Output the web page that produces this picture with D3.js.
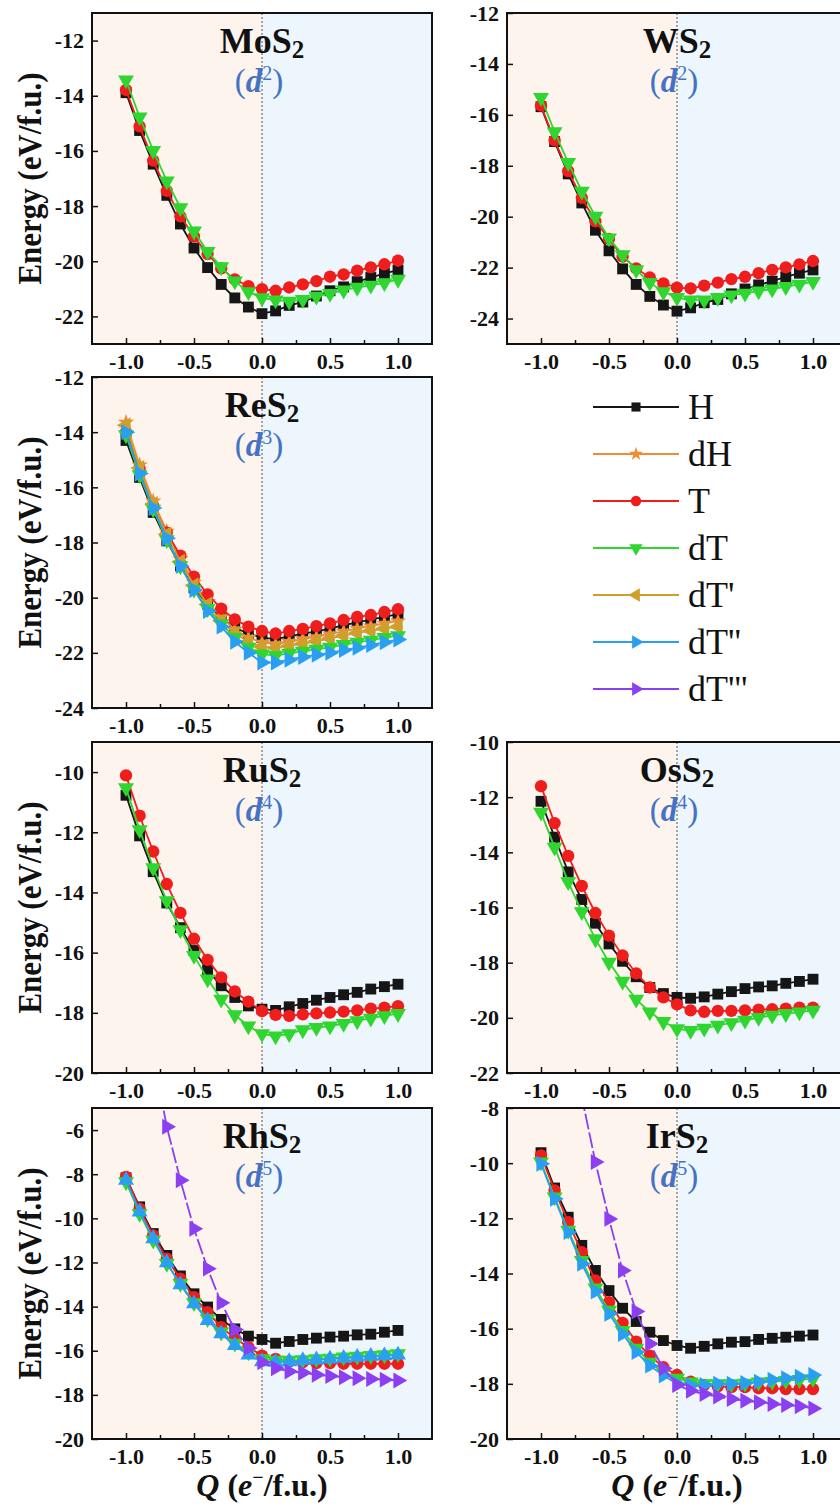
<!DOCTYPE html>
<html>
<head>
<meta charset="utf-8">
<script src="https://cdn.jsdelivr.net/npm/d3@7"></script>
<style>
  html, body { margin: 0; padding: 0; background: #ffffff; }
  svg { display: block; }
  text { font-family: "Liberation Serif", "Times New Roman", serif; }
</style>
</head>
<body>
<svg id="chart" width="840" height="1508"></svg>
<script>
// Charge doping Q (e-/f.u.)
const chargeQ = [-1.0, -0.9, -0.8, -0.7, -0.6, -0.5, -0.4, -0.3, -0.2, -0.1, 0.0,
                 0.1, 0.2, 0.3, 0.4, 0.5, 0.6, 0.7, 0.8, 0.9, 1.0];
const xTickValues = [-1.0, -0.5, 0.0, 0.5, 1.0];
const xMinorTicks = [-0.75, -0.25, 0.25, 0.75];

// Phase names in legend order
const phaseNames = ["H", "dH", "T", "dT", "dT'", "dT''", "dT'''"];

// MoS2 (d2)
const mos2H  = [-13.89, -15.26, -16.48, -17.61, -18.65, -19.52, -20.23, -20.84, -21.33, -21.66, -21.90, -21.80, -21.60, -21.48, -21.26, -21.07, -20.93, -20.74, -20.59, -20.44, -20.32];
const mos2T  = [-13.79, -15.11, -16.35, -17.45, -18.37, -19.10, -19.74, -20.26, -20.66, -20.90, -21.01, -21.07, -20.95, -20.84, -20.72, -20.56, -20.48, -20.34, -20.22, -20.11, -19.98];
const mos2dT = [-13.43, -14.77, -15.99, -17.09, -18.06, -18.91, -19.65, -20.20, -20.72, -21.11, -21.33, -21.41, -21.45, -21.39, -21.27, -21.17, -21.05, -20.95, -20.87, -20.78, -20.66];
const mos2Ticks = [-12, -14, -16, -18, -20, -22];

// WS2 (d2)
const ws2H  = [-15.68, -17.05, -18.32, -19.46, -20.53, -21.34, -22.05, -22.66, -23.13, -23.47, -23.71, -23.58, -23.38, -23.25, -23.03, -22.84, -22.68, -22.53, -22.36, -22.22, -22.09];
const ws2T  = [-15.64, -17.00, -18.21, -19.26, -20.18, -20.87, -21.57, -22.03, -22.39, -22.62, -22.79, -22.82, -22.71, -22.59, -22.45, -22.36, -22.22, -22.09, -21.99, -21.87, -21.74];
const ws2dT = [-15.32, -16.67, -17.88, -19.00, -19.99, -20.84, -21.50, -22.09, -22.59, -22.95, -23.18, -23.28, -23.28, -23.18, -23.08, -23.01, -22.92, -22.84, -22.75, -22.66, -22.55];
const ws2Ticks = [-12, -14, -16, -18, -20, -22, -24];

// ReS2 (d3)
const res2H   = [-14.30, -15.64, -16.91, -17.94, -18.85, -19.64, -20.24, -20.73, -21.09, -21.30, -21.45, -21.50, -21.40, -21.30, -21.22, -21.12, -21.00, -20.90, -20.80, -20.70, -20.60];
const res2dH  = [-13.65, -15.20, -16.50, -17.60, -18.60, -19.45, -20.15, -20.70, -21.15, -21.45, -21.62, -21.68, -21.60, -21.50, -21.42, -21.32, -21.22, -21.12, -21.03, -20.93, -20.85];
const res2T   = [-14.00, -15.33, -16.67, -17.64, -18.48, -19.24, -19.88, -20.40, -20.79, -21.05, -21.21, -21.30, -21.21, -21.13, -21.03, -20.93, -20.81, -20.70, -20.63, -20.52, -20.42];
const res2dT  = [-14.10, -15.55, -16.80, -17.90, -18.85, -19.70, -20.40, -20.95, -21.45, -21.80, -22.05, -22.10, -22.02, -21.95, -21.87, -21.80, -21.70, -21.62, -21.55, -21.45, -21.38];
const res2dT1 = [-13.75, -15.30, -16.60, -17.70, -18.70, -19.55, -20.25, -20.85, -21.30, -21.60, -21.78, -21.82, -21.75, -21.67, -21.58, -21.48, -21.38, -21.28, -21.20, -21.12, -21.05];
const res2dT2 = [-14.00, -15.50, -16.75, -17.85, -18.85, -19.72, -20.48, -21.05, -21.60, -22.00, -22.35, -22.35, -22.25, -22.15, -22.07, -22.00, -21.90, -21.82, -21.72, -21.62, -21.52];
const res2Ticks = [-12, -14, -16, -18, -20, -22, -24];

// RuS2 (d4)
const rus2H  = [-10.77, -12.12, -13.31, -14.35, -15.17, -15.93, -16.58, -17.10, -17.49, -17.77, -17.88, -17.92, -17.80, -17.69, -17.58, -17.49, -17.40, -17.32, -17.21, -17.13, -17.05];
const rus2T  = [-10.11, -11.45, -12.64, -13.72, -14.68, -15.54, -16.24, -16.82, -17.29, -17.63, -17.94, -18.07, -18.10, -18.05, -18.02, -17.99, -17.96, -17.92, -17.86, -17.83, -17.78];
const rus2dT = [-10.52, -11.92, -13.18, -14.28, -15.24, -16.10, -16.88, -17.55, -18.07, -18.44, -18.70, -18.77, -18.70, -18.57, -18.49, -18.44, -18.36, -18.27, -18.18, -18.10, -18.03];
const rus2Ticks = [-10, -12, -14, -16, -18, -20];

// OsS2 (d4)
const oss2H  = [-12.15, -13.45, -14.71, -15.71, -16.57, -17.32, -17.95, -18.51, -18.90, -19.12, -19.26, -19.29, -19.24, -19.14, -19.05, -18.94, -18.88, -18.84, -18.75, -18.68, -18.60];
const oss2T  = [-11.60, -12.94, -14.13, -15.22, -16.20, -17.02, -17.74, -18.39, -18.90, -19.26, -19.51, -19.73, -19.78, -19.75, -19.75, -19.73, -19.70, -19.69, -19.67, -19.63, -19.63];
const oss2dT = [-12.55, -13.82, -15.07, -16.16, -17.14, -17.99, -18.68, -19.33, -19.79, -20.14, -20.40, -20.46, -20.38, -20.27, -20.18, -20.09, -19.99, -19.91, -19.85, -19.79, -19.73];
const oss2Ticks = [-10, -12, -14, -16, -18, -20, -22];

// RhS2 (d5)
const rhs2H   = [-8.16, -9.48, -10.69, -11.68, -12.61, -13.42, -14.02, -14.58, -15.01, -15.34, -15.49, -15.66, -15.58, -15.49, -15.43, -15.38, -15.34, -15.28, -15.25, -15.16, -15.08];
const rhs2T   = [-8.12, -9.56, -10.77, -11.83, -12.74, -13.57, -14.25, -14.93, -15.43, -15.84, -16.22, -16.37, -16.49, -16.52, -16.56, -16.56, -16.59, -16.59, -16.59, -16.59, -16.59];
const rhs2dT  = [-8.35, -9.78, -10.99, -12.05, -12.96, -13.83, -14.55, -15.16, -15.66, -16.06, -16.37, -16.44, -16.44, -16.41, -16.37, -16.34, -16.29, -16.25, -16.22, -16.19, -16.14];
const rhs2dT2 = [-8.27, -9.71, -10.92, -12.01, -13.01, -13.87, -14.63, -15.23, -15.76, -16.19, -16.49, -16.52, -16.49, -16.44, -16.41, -16.37, -16.34, -16.29, -16.25, -16.22, -16.19];
const rhs2dT3 = [4.20, 0.60, -2.60, -5.85, -8.27, -10.47, -12.28, -13.83, -15.04, -15.88, -16.52, -16.79, -16.94, -17.00, -17.09, -17.15, -17.20, -17.25, -17.28, -17.31, -17.35];
const rhs2Ticks = [-6, -8, -10, -12, -14, -16, -18, -20];

// IrS2 (d5)
const irs2H   = [-9.62, -10.90, -11.96, -12.98, -13.89, -14.62, -15.26, -15.74, -16.13, -16.43, -16.61, -16.71, -16.64, -16.55, -16.49, -16.47, -16.39, -16.35, -16.31, -16.27, -16.23];
const irs2T   = [-9.72, -10.99, -12.14, -13.23, -14.25, -15.04, -15.79, -16.47, -16.98, -17.40, -17.68, -17.92, -18.04, -18.09, -18.12, -18.12, -18.16, -18.16, -18.19, -18.19, -18.19];
const irs2dT  = [-9.96, -11.23, -12.44, -13.53, -14.53, -15.34, -16.07, -16.71, -17.22, -17.56, -17.80, -17.94, -18.00, -18.00, -18.00, -17.98, -17.94, -17.92, -17.88, -17.85, -17.82];
const irs2dT2 = [-10.02, -11.29, -12.50, -13.65, -14.65, -15.46, -16.19, -16.85, -17.34, -17.70, -18.00, -18.06, -18.04, -18.00, -18.00, -17.97, -17.92, -17.85, -17.80, -17.74, -17.68];
const irs2dT3 = [0.60, -2.40, -5.10, -7.60, -9.96, -12.02, -13.89, -15.38, -16.55, -17.44, -18.04, -18.25, -18.37, -18.46, -18.55, -18.61, -18.67, -18.73, -18.77, -18.81, -18.89];
const irs2Ticks = [-8, -10, -12, -14, -16, -18, -20];

// ---------- styling of each phase ----------
const phaseStyle = {
  "H":     { color: "#161616", marker: "square", size: 118 },
  "dH":    { color: "#f08c34", marker: "star",   size: 85 },
  "T":     { color: "#f01d1d", marker: "circle", size: 120 },
  "dT":    { color: "#2fd62f", marker: "down",   size: 110 },
  "dT'":   { color: "#cf9f2c", marker: "left",   size: 110 },
  "dT''":  { color: "#2a9ff2", marker: "right",  size: 110 },
  "dT'''": { color: "#8b3ff0", marker: "right",  size: 110, dash: "16,3" }
};

const panels = [
  { metal: "Mo", dn: "2", col: 0, row: 0, yDomain: [-23, -11], yTicks: mos2Ticks,
    series: [["H", mos2H], ["T", mos2T], ["dT", mos2dT]] },
  { metal: "W",  dn: "2", col: 1, row: 0, yDomain: [-25, -12], yTicks: ws2Ticks,
    series: [["H", ws2H], ["T", ws2T], ["dT", ws2dT]] },
  { metal: "Re", dn: "3", col: 0, row: 1, yDomain: [-24, -12], yTicks: res2Ticks,
    series: [["H", res2H], ["dH", res2dH], ["T", res2T], ["dT'", res2dT1], ["dT", res2dT], ["dT''", res2dT2]] },
  { metal: "Ru", dn: "4", col: 0, row: 2, yDomain: [-20, -9], yTicks: rus2Ticks,
    series: [["H", rus2H], ["T", rus2T], ["dT", rus2dT]] },
  { metal: "Os", dn: "4", col: 1, row: 2, yDomain: [-22, -10], yTicks: oss2Ticks,
    series: [["H", oss2H], ["T", oss2T], ["dT", oss2dT]] },
  { metal: "Rh", dn: "5", col: 0, row: 3, yDomain: [-20, -5], yTicks: rhs2Ticks, xLabel: true,
    series: [["H", rhs2H], ["T", rhs2T], ["dT", rhs2dT], ["dT''", rhs2dT2, "up"], ["dT'''", rhs2dT3]] },
  { metal: "Ir", dn: "5", col: 1, row: 3, yDomain: [-20, -8], yTicks: irs2Ticks, xLabel: true,
    series: [["H", irs2H], ["T", irs2T], ["dT", irs2dT], ["dT''", irs2dT2], ["dT'''", irs2dT3]] }
];

// ---------- layout ----------
const colX = [92, 507];
const rowY = [13, 377, 742, 1108];
const plotW = 340, plotH = 331;
const leftBg = "#fdf4ee", rightBg = "#eef6fd";
const dBlue = "#4472c4";
const serif = '"Liberation Serif", "Times New Roman", serif';

const svg = d3.select("#chart");

function symbolPath(kind, size) {
  const type = {
    square: d3.symbolSquare, circle: d3.symbolCircle, star: d3.symbolStar,
    down: d3.symbolTriangle, up: d3.symbolTriangle, left: d3.symbolTriangle, right: d3.symbolTriangle
  }[kind];
  return d3.symbol().type(type).size(size)();
}
function symbolRotation(kind) {
  return { down: 180, left: -90, right: 90 }[kind] || 0;
}

panels.forEach((p, idx) => {
  const g = svg.append("g").attr("transform", `translate(${colX[p.col]},${rowY[p.row]})`);
  const x = d3.scaleLinear().domain([-1.25, 1.25]).range([0, plotW]);
  const y = d3.scaleLinear().domain(p.yDomain).range([plotH, 0]);

  // shaded halves: hole doping (Q<0) and electron doping (Q>0)
  g.append("rect").attr("x", 0).attr("y", 0).attr("width", x(0)).attr("height", plotH).attr("fill", leftBg);
  g.append("rect").attr("x", x(0)).attr("y", 0).attr("width", plotW - x(0)).attr("height", plotH).attr("fill", rightBg);
  g.append("line")
    .attr("x1", x(0)).attr("x2", x(0)).attr("y1", 0).attr("y2", plotH)
    .attr("stroke", "#555").attr("stroke-width", 1).attr("stroke-dasharray", "2,2");

  const clipId = "clip" + idx;
  g.append("clipPath").attr("id", clipId)
    .append("rect").attr("x", 0).attr("y", 0).attr("width", plotW).attr("height", plotH);

  const plot = g.append("g").attr("clip-path", `url(#${clipId})`);
  const line = d3.line().x((d, i) => x(chargeQ[i])).y(d => y(d));

  p.series.forEach(([name, values, markerOverride]) => {
    const st = phaseStyle[name];
    const kind = markerOverride || st.marker;
    const sg = plot.append("g");
    sg.append("path").datum(values)
      .attr("d", line)
      .attr("fill", "none")
      .attr("stroke", st.color)
      .attr("stroke-width", 1.8)
      .attr("stroke-dasharray", st.dash || null);
    sg.selectAll("path.pt").data(values).join("path")
      .attr("class", "pt")
      .attr("d", symbolPath(kind, st.size))
      .attr("transform", (d, i) => `translate(${x(chargeQ[i])},${y(d)}) rotate(${symbolRotation(kind)})`)
      .attr("fill", st.color);
  });

  // axes
  const xAxis = g.append("g").attr("transform", `translate(0,${plotH})`)
    .call(d3.axisBottom(x).tickValues(xTickValues).tickFormat(d => d.toFixed(1))
      .tickSizeInner(-6).tickSizeOuter(0).tickPadding(9));
  g.append("g").attr("transform", `translate(0,${plotH})`)
    .call(d3.axisBottom(x).tickValues(xMinorTicks).tickFormat("").tickSizeInner(-4).tickSizeOuter(0))
    .call(a => a.select(".domain").remove());
  const yAxis = g.append("g")
    .call(d3.axisLeft(y).tickValues(p.yTicks).tickFormat(d => String(d))
      .tickSizeInner(-6).tickSizeOuter(0).tickPadding(8));

  [xAxis, yAxis].forEach(a => {
    a.attr("font-family", serif).attr("font-size", 22).attr("font-weight", "bold");
    a.select(".domain").remove();
    a.selectAll(".tick text")
      .attr("fill", "#111")
      .attr("font-family", serif)
      .style("font-family", serif)
      .style("font-weight", "bold")
      .style("font-size", "22px");
  });
  g.selectAll(".tick line").attr("stroke", "#111").attr("stroke-width", 1.5);

  // frame
  g.append("rect").attr("x", 0).attr("y", 0).attr("width", plotW).attr("height", plotH)
    .attr("fill", "none").attr("stroke", "#111").attr("stroke-width", 2);

  // compound title
  const title = g.append("text")
    .attr("x", x(0)).attr("y", 40).attr("text-anchor", "middle")
    .attr("fill", "#111").style("font-weight", "bold").style("font-size", "36px");
  title.append("tspan").text(p.metal + "S");
  title.append("tspan").attr("dy", 5).style("font-size", "25px").text("2");

  // d-electron count
  const dlab = g.append("text")
    .attr("x", x(0) - 3).attr("y", 79).attr("text-anchor", "middle")
    .attr("fill", dBlue).style("font-size", "33px");
  dlab.append("tspan").text("(");
  dlab.append("tspan").style("font-style", "italic").style("font-weight", "bold").text("d");
  dlab.append("tspan").attr("dy", -12).style("font-size", "20px").text(p.dn);
  dlab.append("tspan").attr("dy", 12).text(")");

  // y label on left column
  if (p.col === 0) {
    svg.append("text")
      .attr("transform", `translate(41,${rowY[p.row] + plotH / 2}) rotate(-90)`)
      .attr("text-anchor", "middle")
      .attr("fill", "#111")
      .attr("textLength", 212).attr("lengthAdjust", "spacingAndGlyphs")
      .style("font-weight", "bold").style("font-size", "33px")
      .text("Energy (eV/f.u.)");
  }

  // x label on bottom row
  if (p.xLabel) {
    const xl = g.append("text")
      .attr("x", x(0)).attr("y", plotH + 57).attr("text-anchor", "middle")
      .attr("fill", "#111").style("font-weight", "bold").style("font-size", "32px");
    xl.append("tspan").style("font-style", "italic").text("Q");
    xl.append("tspan").text(" (");
    xl.append("tspan").style("font-style", "italic").text("e");
    xl.append("tspan").attr("dy", -12).style("font-size", "20px").text("\u2212");
    xl.append("tspan").attr("dy", 12).text("/f.u.)");
  }
});

// ---------- legend ----------
const legend = svg.append("g");
const legX0 = 593, legX1 = 679, legMarkX = 636, legTextX = 688;
const legY0 = 407, legStep = 47;
phaseNames.forEach((name, i) => {
  const st = phaseStyle[name];
  const yy = legY0 + i * legStep;
  legend.append("line")
    .attr("x1", legX0).attr("x2", legX1).attr("y1", yy).attr("y2", yy)
    .attr("stroke", st.color).attr("stroke-width", 2.2);
  legend.append("path")
    .attr("d", symbolPath(st.marker, st.size * 0.7))
    .attr("transform", `translate(${legMarkX},${yy}) rotate(${symbolRotation(st.marker)})`)
    .attr("fill", st.color);
  legend.append("text")
    .attr("x", legTextX).attr("y", yy + 12)
    .attr("fill", "#111").style("font-size", "36px")
    .text(name);
});
</script>
</body>
</html>
